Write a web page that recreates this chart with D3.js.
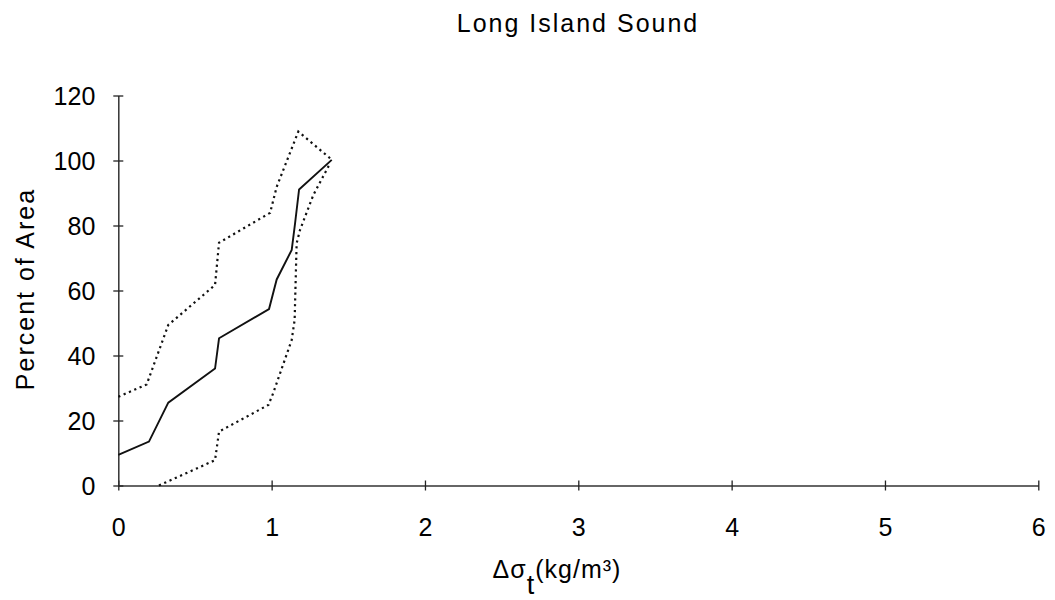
<!DOCTYPE html>
<html><head><meta charset="utf-8">
<script src="https://cdn.jsdelivr.net/npm/d3@7"></script>
<style>body{margin:0;background:#fff}svg{display:block}text{font-family:"Liberation Sans",Arial,sans-serif;fill:#000}</style>
</head><body>
<svg id="c" width="1055" height="600"></svg>
<script>
const xTicks = [0,1,2,3,4,5,6];
const yTicks = [0,20,40,60,80,100,120];
const meanX = [0,0.20,0.326,0.631,0.657,0.983,1.033,1.131,1.153,1.179,1.392];
const meanY = [9.4,13.5,25.5,36.0,45.3,54.3,63.4,72.5,80.7,91.1,100.2];
const upperX = [0,0.185,0.326,0.631,0.657,0.99,1.033,1.174,1.381];
const upperY = [27.3,31.1,49.4,61.7,74.7,83.9,91.9,108.9,100.7];
const lowerX = [0.265,0.631,0.657,0.979,1.01,1.131,1.15,1.163,1.185,1.272,1.381];
const lowerY = [0,7.8,16.6,24.8,28.4,44.8,50.9,74.5,78.6,89.4,99.1];

const svg = d3.select("#c");
const x = d3.scaleLinear().domain([0,6]).range([118.3,1038.3]);
const y = d3.scaleLinear().domain([0,120]).range([485.5,95.5]);

const gx = svg.append("g").attr("transform",`translate(0,${y(0)})`)
  .call(d3.axisBottom(x).tickValues(xTicks).tickFormat(d3.format("d")).tickSizeInner(6).tickSizeOuter(0));
gx.selectAll(".tick line").attr("y1",-5).attr("y2",5);
gx.selectAll(".tick text").attr("dy",0).attr("y",50).style("font-size","25px");
const gy = svg.append("g").attr("transform",`translate(${x(0)},0)`)
  .call(d3.axisLeft(y).tickValues(yTicks).tickFormat(d3.format("d")).tickSizeInner(5).tickSizeOuter(0));
gy.selectAll(".tick line").attr("x1",-5).attr("x2",5);
gy.selectAll(".tick text").attr("x",-23).attr("dy","0.36em").style("font-size","25px");
svg.selectAll(".domain").attr("stroke","#333").attr("stroke-width",1.5);
svg.selectAll(".tick line").attr("stroke","#222").attr("stroke-width",1.3);

const line = d3.line().x(d=>x(d[0])).y(d=>y(d[1]));
const zip = (a,b)=>a.map((v,i)=>[v,b[i]]);
svg.append("path").datum(zip(upperX,upperY)).attr("d",line).attr("fill","none")
  .attr("stroke","#111").attr("stroke-width",2.2).attr("stroke-dasharray","2.2,3.6");
svg.append("path").datum(zip(lowerX,lowerY)).attr("d",line).attr("fill","none")
  .attr("stroke","#111").attr("stroke-width",2.2).attr("stroke-dasharray","2.2,3.6");
svg.append("path").datum(zip(meanX,meanY)).attr("d",line).attr("fill","none")
  .attr("stroke","#111").attr("stroke-width",1.9);

svg.append("text").attr("x",578).attr("y",32).attr("text-anchor","middle").style("font-size","25px").style("letter-spacing","2px").text("Long Island Sound");
svg.append("text").attr("transform","translate(34,289) rotate(-90)").attr("text-anchor","middle").style("font-size","25px").style("letter-spacing","2px").text("Percent of Area");
const xl = svg.append("text").attr("x",557).attr("y",578).attr("text-anchor","middle").style("font-size","25px").style("letter-spacing","1px");
xl.append("tspan").text("Δσ");
xl.append("tspan").attr("dy",16).style("font-size","27px").text("t");
xl.append("tspan").attr("dy",-16).text("(kg/m³)");
</script>
</body></html>
